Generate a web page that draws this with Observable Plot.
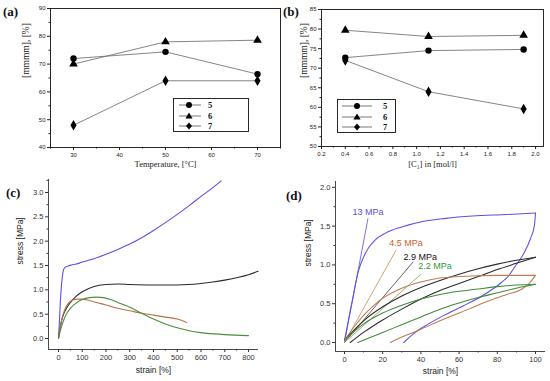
<!DOCTYPE html>
<html><head><meta charset="utf-8">
<script src="https://cdn.jsdelivr.net/npm/d3@7"></script>
<script src="https://cdn.jsdelivr.net/npm/@observablehq/plot@0.6"></script>
<style>
body{margin:0;background:#fff;}
#fig{position:relative;width:550px;height:381px;overflow:hidden;background:#fff;}
#fig svg{position:absolute;}
.pl{position:absolute;font-family:"Liberation Serif","DejaVu Serif",serif;font-weight:bold;font-size:13px;line-height:15px;color:#111;}
.lg{position:absolute;}
</style></head><body><div id="fig"></div>
<script>
// ---------- data ----------
const seriesIds = ["5", "6", "7"];
// panel (a)
const tempC = [30, 50, 70];
const mmmmA5 = [72.0, 74.4, 66.4];
const mmmmA6 = [70.0, 78.0, 78.6];
const mmmmA7 = [48.0, 64.0, 64.0];
const aXTicks = [30, 40, 50, 60, 70];
const aXMinor = [25, 35, 45, 55, 65, 75];
const aYTicks = [40, 50, 60, 70, 80, 90];
const aYMinor = [45, 55, 65, 75, 85];
// panel (b)
const concB = [0.4, 1.1, 1.9];
const mmmmB5 = [72.7, 74.5, 74.8];
const mmmmB6 = [79.7, 78.1, 78.4];
const mmmmB7 = [72.0, 64.0, 59.6];
const bXTicks = [0.2, 0.4, 0.6, 0.8, 1.0, 1.2, 1.4, 1.6, 1.8, 2.0];
const bXMinor = [0.3, 0.5, 0.7, 0.9, 1.1, 1.3, 1.5, 1.7, 1.9];
const bYTicks = [50, 55, 60, 65, 70, 75, 80, 85];
const bYMinor = [52.5, 57.5, 62.5, 67.5, 72.5, 77.5, 82.5];
// panel (c)
const samples = ["13 MPa", "2.9 MPa", "4.5 MPa", "2.2 MPa"];
const cBlueStrain = [0, 4, 8, 12, 16, 22, 30, 40, 55, 75, 100, 150, 200, 250, 300, 350, 400, 450, 500, 550, 600, 650, 685];
const cBlueStress = [0, 0.35, 0.77, 1.05, 1.27, 1.42, 1.47, 1.49, 1.51, 1.53, 1.57, 1.64, 1.73, 1.83, 1.94, 2.07, 2.22, 2.38, 2.55, 2.73, 2.92, 3.1, 3.24];
const cBlackStrain = [0, 10, 20, 35, 50, 75, 100, 150, 200, 250, 300, 400, 500, 600, 650, 700, 750, 800, 840];
const cBlackStress = [0, 0.3, 0.48, 0.63, 0.74, 0.87, 0.96, 1.07, 1.11, 1.12, 1.11, 1.1, 1.1, 1.13, 1.16, 1.2, 1.25, 1.31, 1.38];
const cOrangeStrain = [0, 10, 20, 30, 45, 60, 80, 100, 130, 160, 200, 250, 300, 350, 400, 450, 500, 540];
const cOrangeStress = [0, 0.3, 0.5, 0.63, 0.74, 0.79, 0.81, 0.81, 0.78, 0.74, 0.69, 0.62, 0.57, 0.52, 0.48, 0.44, 0.4, 0.33];
const cGreenStrain = [0, 10, 20, 30, 50, 75, 100, 130, 160, 190, 220, 250, 300, 350, 400, 450, 500, 550, 600, 700, 800];
const cGreenStress = [0, 0.2, 0.35, 0.47, 0.62, 0.73, 0.8, 0.84, 0.85, 0.84, 0.8, 0.74, 0.64, 0.52, 0.4, 0.3, 0.22, 0.16, 0.12, 0.08, 0.06];
const cXTicks = [0, 100, 200, 300, 400, 500, 600, 700, 800];
const cXMinor = [50, 150, 250, 350, 450, 550, 650, 750];
const cYTicks = [0, 0.5, 1.0, 1.5, 2.0, 2.5, 3.0];
const cYMinor = [0.25, 0.75, 1.25, 1.75, 2.25, 2.75, 3.25];
// panel (d): loading and unloading branches
const dBlueLoadStrain = [0, 1, 2, 3, 4.2, 5.5, 7.3, 10, 12.6, 16, 21.5, 30, 41, 53, 67, 85, 100];
const dBlueLoadStress = [0.03, 0.15, 0.28, 0.41, 0.55, 0.72, 0.92, 1.1, 1.22, 1.32, 1.41, 1.49, 1.56, 1.6, 1.63, 1.65, 1.67];
const dBlueUnloadStrain = [31, 37, 44, 52, 62, 72, 82, 86, 89, 93.7, 97.4, 99.5, 100];
const dBlueUnloadStress = [0, 0.13, 0.24, 0.35, 0.47, 0.6, 0.77, 0.86, 0.97, 1.14, 1.34, 1.52, 1.67];
const dOrangeLoadStrain = [0, 5, 10, 15, 20, 30, 40, 50, 60, 70, 80, 100];
const dOrangeLoadStress = [0.03, 0.2, 0.35, 0.47, 0.57, 0.7, 0.78, 0.83, 0.85, 0.86, 0.865, 0.865];
const dOrangeUnloadStrain = [24, 30, 40, 50, 65, 76, 85, 93, 97, 100];
const dOrangeUnloadStress = [0, 0.07, 0.17, 0.28, 0.43, 0.54, 0.62, 0.69, 0.77, 0.865];
const dBlackLoadStrain = [0, 10, 20, 30, 40, 50, 60, 70, 80, 90, 100];
const dBlackLoadStress = [0.03, 0.28, 0.46, 0.6, 0.71, 0.8, 0.88, 0.95, 1.01, 1.06, 1.1];
const dBlackUnloadStrain = [3, 10, 20, 30, 40, 50, 60, 70, 80, 90, 100];
const dBlackUnloadStress = [0, 0.13, 0.29, 0.43, 0.56, 0.67, 0.76, 0.85, 0.94, 1.02, 1.1];
const dGreenLoadStrain = [0, 10, 20, 30, 40, 50, 60, 70, 80, 90, 100];
const dGreenLoadStress = [0.03, 0.24, 0.38, 0.48, 0.56, 0.62, 0.66, 0.69, 0.72, 0.74, 0.75];
const dGreenUnloadStrain = [7, 20, 30, 40, 50, 60, 70, 80, 90, 100];
const dGreenUnloadStress = [0, 0.13, 0.23, 0.33, 0.43, 0.51, 0.58, 0.64, 0.7, 0.75];
const modulusLabels = ["13 MPa", "4.5 MPa", "2.9 MPa", "2.2 MPa"];
const tangentEndStrain = [12.3, 27, 36, 40];
const tangentEndStress = [1.6, 1.19, 1.04, 0.88];
const dXTicks = [0, 20, 40, 60, 80, 100];
const dXMinor = [10, 30, 50, 70, 90];
const dYTicks = [0, 0.5, 1.0, 1.5, 2.0];
const dYMinor = [0.25, 0.75, 1.25, 1.75];

// ---------- drawing ----------
const fig = document.getElementById("fig");
const serif = "'Liberation Serif','DejaVu Serif',serif";
const sans = "'Liberation Sans',Arial,sans-serif";
function place(el, left, top) { el.style.left = left + "px"; el.style.top = top + "px"; fig.appendChild(el); }
function letter(t, left, top) { const d = document.createElement("div"); d.className = "pl"; d.textContent = t; place(d, left, top); }
const zip = (xs, ys, s) => xs.map((x, i) => ({x, y: ys[i], s}));

function scatterPanel(xs, ys3, opts) {
  const rows = seriesIds.flatMap((s, k) => zip(xs, ys3[k], s));
  return Plot.plot({
    width: opts.width, height: opts.height,
    marginLeft: opts.ml, marginRight: opts.mr, marginTop: opts.mt, marginBottom: opts.mb,
    style: {background: "none", fontFamily: sans, overflow: "visible", color: "#222"},
    x: {domain: opts.xDomain, label: null},
    y: {domain: opts.yDomain, label: null},
    symbol: {domain: seriesIds, range: ["circle", "triangle", "diamond"]},
    marks: [
      Plot.axisX(opts.xTicks, {tickSize: 3, tickPadding: 2, fontSize: 6, label: null, tickFormat: opts.xFmt}),
      Plot.axisX(opts.xMinor, {tickSize: 1.5, fill: "none", label: null}),
      Plot.axisY(opts.yTicks, {tickSize: 3, tickPadding: 2, fontSize: 6, label: null, tickFormat: d3.format("d")}),
      Plot.axisY(opts.yMinor, {tickSize: 1.5, fill: "none", label: null}),
      Plot.frame({stroke: "#111", strokeWidth: 0.9}),
      Plot.line(rows, {x: "x", y: "y", z: "s", stroke: "#666", strokeWidth: 0.8}),
      Plot.dot(rows, {x: "x", y: "y", symbol: "s", fill: "#000", r: 3.2}),
      Plot.text([opts.xLabel], {frameAnchor: "bottom", dy: opts.xLabelDy, fontFamily: serif, fontSize: 8.5, fill: "#222"}),
      Plot.text(["[mmmm], [%]"], {frameAnchor: "left", dx: opts.yLabelDx, rotate: -90, fontFamily: serif, fontSize: 9.5, fill: "#222"})
    ]
  });
}

const plotA = scatterPanel(tempC, [mmmmA5, mmmmA6, mmmmA7], {
  width: 285, height: 175, ml: 50, mr: 5, mt: 8, mb: 28,
  xDomain: [25, 75], yDomain: [40, 90], xTicks: aXTicks, xMinor: aXMinor, yTicks: aYTicks, yMinor: aYMinor,
  xFmt: d3.format("d"), xLabel: "Temperature, [°C]", xLabelDy: 19, yLabelDx: -25
});
place(plotA, 0, 0);

const plotB = scatterPanel(concB, [mmmmB5, mmmmB6, mmmmB7], {
  width: 270, height: 175, ml: 41, mr: 7, mt: 9, mb: 29,
  xDomain: [0.2, 2.067], yDomain: [50, 85], xTicks: bXTicks, xMinor: bXMinor, yTicks: bYTicks, yMinor: bYMinor,
  xFmt: d3.format(".1f"), xLabel: "[C₁] in [mol/l]", xLabelDy: 20, yLabelDx: -18
});
place(plotB, 280, 0);

function legend(left, top, w, lx1, lx2, mx, tx) {
  const h = 33, rows = [7, 18, 28];
  const sym = [
    (x, y) => `<circle cx="${x}" cy="${y}" r="3" fill="#000"/>`,
    (x, y) => `<path d="M${x},${y - 3.5}L${x + 3.6},${y + 2.6}L${x - 3.6},${y + 2.6}Z" fill="#000"/>`,
    (x, y) => `<path d="M${x},${y - 3.6}L${x + 3},${y}L${x},${y + 3.6}L${x - 3},${y}Z" fill="#000"/>`
  ];
  let s = `<svg width="${w + 1}" height="${h + 1}" xmlns="http://www.w3.org/2000/svg"><rect x="0.5" y="0.5" width="${w}" height="${h}" fill="#fff" stroke="#111" stroke-width="0.9"/>`;
  seriesIds.forEach((id, i) => {
    const y = rows[i];
    s += `<line x1="${lx1}" x2="${lx2}" y1="${y}" y2="${y}" stroke="#555" stroke-width="0.8"/>` + sym[i](mx, y) +
      `<text x="${tx}" y="${y + 3}" font-family="${serif}" font-weight="bold" font-size="8.5" fill="#111">${id}</text>`;
  });
  s += `</svg>`;
  const d = document.createElement("div"); d.className = "lg"; d.innerHTML = s; place(d, left, top);
}
legend(173, 98, 75, 6, 28, 16, 35);
legend(337, 99, 58, 5, 35, 20, 46);

// (c)
const rowsC = [
  ...zip(cBlueStrain, cBlueStress, samples[0]), ...zip(cBlackStrain, cBlackStress, samples[1]),
  ...zip(cOrangeStrain, cOrangeStress, samples[2]), ...zip(cGreenStrain, cGreenStress, samples[3])
];
const cXDomain = [-42, 842], cYDomain = [-0.226, 3.267];
const plotC = Plot.plot({
  width: 275, height: 206, marginLeft: 48, marginRight: 17, marginTop: 4, marginBottom: 32,
  style: {background: "none", fontFamily: sans, overflow: "visible", color: "#333"},
  x: {domain: cXDomain, label: null}, y: {domain: cYDomain, label: null},
  color: {domain: samples, range: ["#5a50e6", "#2a2a2a", "#b9704c", "#4a8f3e"]},
  marks: [
    Plot.ruleX([cXDomain[0]], {stroke: "#333", strokeWidth: 0.9}),
    Plot.ruleY([cYDomain[0]], {stroke: "#333", strokeWidth: 0.9}),
    Plot.axisX(cXTicks, {tickSize: 3, tickPadding: 2, fontSize: 7.5, label: null, tickFormat: d3.format("d")}),
    Plot.axisX(cXMinor, {tickSize: 1.5, fill: "none", label: null}),
    Plot.axisY(cYTicks, {tickSize: 3, tickPadding: 2, fontSize: 7.5, label: null, tickFormat: d3.format(".1f")}),
    Plot.axisY(cYMinor, {tickSize: 1.5, fill: "none", label: null}),
    Plot.line(rowsC, {x: "x", y: "y", z: "s", stroke: "s", strokeWidth: 1.1, curve: "monotone-x"}),
    Plot.text(["strain [%]"], {frameAnchor: "bottom", dy: 23, fontSize: 8.5, fill: "#222"}),
    Plot.text(["stress [MPa]"], {frameAnchor: "left", dx: -28, rotate: -90, fontSize: 8.5, fill: "#222"})
  ]
});
place(plotC, 0, 175);

// (d)
const branch = ["loading", "unloading"];
const rowsD = [
  ...zip(dBlueLoadStrain, dBlueLoadStress, samples[0]).map(r => ({...r, b: branch[0]})),
  ...zip(dBlueUnloadStrain, dBlueUnloadStress, samples[0]).map(r => ({...r, b: branch[1]})),
  ...zip(dBlackLoadStrain, dBlackLoadStress, samples[1]).map(r => ({...r, b: branch[0]})),
  ...zip(dBlackUnloadStrain, dBlackUnloadStress, samples[1]).map(r => ({...r, b: branch[1]})),
  ...zip(dOrangeLoadStrain, dOrangeLoadStress, samples[2]).map(r => ({...r, b: branch[0]})),
  ...zip(dOrangeUnloadStrain, dOrangeUnloadStress, samples[2]).map(r => ({...r, b: branch[1]})),
  ...zip(dGreenLoadStrain, dGreenLoadStress, samples[3]).map(r => ({...r, b: branch[0]})),
  ...zip(dGreenUnloadStrain, dGreenUnloadStress, samples[3]).map(r => ({...r, b: branch[1]}))
].map(r => ({...r, key: r.s + " " + r.b}));
const tangents = modulusLabels.map((m, i) => ({m, x2: tangentEndStrain[i], y2: tangentEndStress[i]}));
const dXDomain = [-4.71, 105.24], dYDomain = [-0.116, 2.075];
const tanColors = {"13 MPa": "#6d62e8", "4.5 MPa": "#c99a66", "2.9 MPa": "#555555", "2.2 MPa": "#8fa060"};
const labelColors = {"13 MPa": "#5a4fe0", "4.5 MPa": "#cc5a30", "2.9 MPa": "#111111", "2.2 MPa": "#2f9a3a"};
const labelOffsets = [[0, -6], [10, -7], [7, -5], [14, -8]];
const plotD = Plot.plot({
  width: 275, height: 206, marginLeft: 60, marginRight: 5, marginTop: 6, marginBottom: 30,
  style: {background: "none", fontFamily: sans, overflow: "visible", color: "#333"},
  x: {domain: dXDomain, label: null}, y: {domain: dYDomain, label: null},
  color: {domain: samples, range: ["#5a50e6", "#2a2a2a", "#c07a52", "#3f8a3c"]},
  marks: [
    Plot.ruleX([dXDomain[0]], {stroke: "#333", strokeWidth: 0.9}),
    Plot.ruleY([dYDomain[0]], {stroke: "#333", strokeWidth: 0.9}),
    Plot.axisX(dXTicks, {tickSize: 3, tickPadding: 2, fontSize: 7.5, label: null, tickFormat: d3.format("d")}),
    Plot.axisX(dXMinor, {tickSize: 1.5, fill: "none", label: null}),
    Plot.axisY(dYTicks, {tickSize: 3, tickPadding: 2, fontSize: 7.5, label: null, tickFormat: d3.format(".1f")}),
    Plot.axisY(dYMinor, {tickSize: 1.5, fill: "none", label: null}),
    Plot.link(tangents, {x1: () => 0, y1: () => 0, x2: "x2", y2: "y2", stroke: d => tanColors[d.m], strokeWidth: 0.9}),
    Plot.line(rowsD, {x: "x", y: "y", z: "key", stroke: "s", strokeWidth: 1.05, curve: "monotone-x"}),
    ...tangents.map((t, i) => Plot.text([t], {x: "x2", y: "y2", text: "m", dx: labelOffsets[i][0], dy: labelOffsets[i][1], fill: labelColors[t.m], fontSize: 9})),
    Plot.text(["strain [%]"], {frameAnchor: "bottom", dy: 22, fontSize: 8.5, fill: "#222"}),
    Plot.text(["stress [MPa]"], {frameAnchor: "left", dx: -27, rotate: -90, fontSize: 8.5, fill: "#222"})
  ]
});
place(plotD, 275, 175);

letter("(a)", 3, 4);
letter("(b)", 283, 4);
letter("(c)", 6, 185);
letter("(d)", 286, 188);
</script>
</body></html>
